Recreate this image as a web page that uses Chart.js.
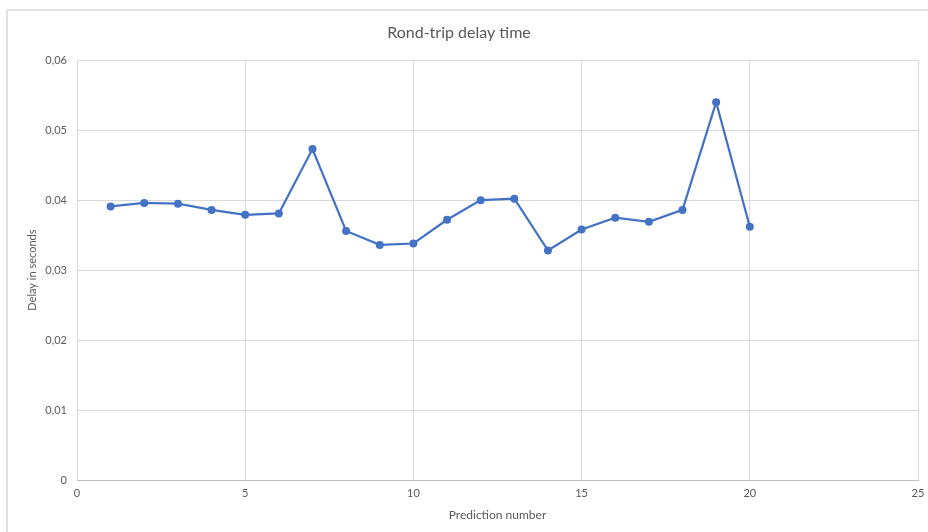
<!DOCTYPE html>
<html>
<head>
<meta charset="utf-8">
<title>Rond-trip delay time</title>
<script src="https://cdn.jsdelivr.net/npm/chart.js@4.4.1/dist/chart.umd.min.js"></script>
<style>
  html, body { margin: 0; padding: 0; background: #fff; overflow: hidden; }
  #wrap { position: relative; width: 928px; height: 532px; overflow: hidden; }
  #frame {
    position: absolute; left: 6px; top: 9px; width: 940px; height: 540px;
    border-left: 2px solid #e2e2e2; border-top: 2px solid #e2e2e2;
  }
  #box { position: absolute; left: 0; top: 0; width: 944px; height: 532px; }
</style>
</head>
<body>
<div id="wrap">
  <div id="frame"></div>
  <div id="box"><canvas id="delayChart" width="944" height="532"></canvas></div>
</div>
<script>
// round-trip delay per prediction
const predictionNumber = [1, 2, 3, 4, 5, 6, 7, 8, 9, 10, 11, 12, 13, 14, 15, 16, 17, 18, 19, 20];
const delaySeconds = [
  0.0391, 0.0396, 0.0395, 0.0386, 0.0379, 0.0381, 0.0473, 0.0356, 0.0336, 0.0338,
  0.0372, 0.0400, 0.0402, 0.0328, 0.0358, 0.0375, 0.0369, 0.0386, 0.0540, 0.0362
];
const yTickLabels = ["0", "0,01", "0,02", "0,03", "0,04", "0,05", "0,06"];
const xTickLabels = ["0", "5", "10", "15", "20", "25"];

const textColor = "#595959";
const gridColor = "#d9d9d9";
const fontFamily = "Lato, 'Open Sans', sans-serif";

const points = predictionNumber.map((n, i) => ({ x: n, y: delaySeconds[i] }));

new Chart(document.getElementById("delayChart"), {
  type: "scatter",
  data: {
    datasets: [{
      label: "Delay",
      data: points,
      showLine: true,
      borderColor: "#4472C4",
      backgroundColor: "#4472C4",
      borderWidth: 2.25,
      pointRadius: 4,
      pointBorderWidth: 0,
      tension: 0
    }]
  },
  options: {
    responsive: false,
    animation: false,
    layout: { padding: { left: 0, right: 26, top: 0, bottom: 0 } },
    plugins: {
      legend: { display: false },
      tooltip: { enabled: false },
      title: {
        display: true,
        text: "Rond-trip delay time",
        color: textColor,
        font: { family: fontFamily, size: 16, weight: "normal" },
        padding: { top: 23, bottom: 18 }
      }
    },
    scales: {
      x: {
        type: "linear",
        min: 0,
        max: 25,
        afterFit: s => { s.height = 52; },
        border: { display: true, color: "#bfbfbf", width: 1 },
        grid: { color: gridColor, drawTicks: false },
        ticks: {
          stepSize: 5,
          padding: 7,
          color: textColor,
          font: { family: fontFamily, size: 11 },
          callback: (v, i) => xTickLabels[i]
        },
        title: {
          display: true,
          text: "Prediction number",
          color: textColor,
          font: { family: fontFamily, size: 12 },
          padding: { top: 0, bottom: 10 }
        }
      },
      y: {
        min: 0,
        max: 0.06,
        afterFit: s => { s.width = 77; },
        border: { display: false },
        grid: { color: gridColor, drawTicks: false },
        ticks: {
          stepSize: 0.01,
          padding: 10,
          color: textColor,
          font: { family: fontFamily, size: 11 },
          callback: (v, i) => yTickLabels[i]
        },
        title: {
          display: true,
          text: "Delay in seconds",
          color: textColor,
          font: { family: fontFamily, size: 11 },
          padding: { top: 26, bottom: 0 }
        }
      }
    }
  }
});
</script>
</body>
</html>
